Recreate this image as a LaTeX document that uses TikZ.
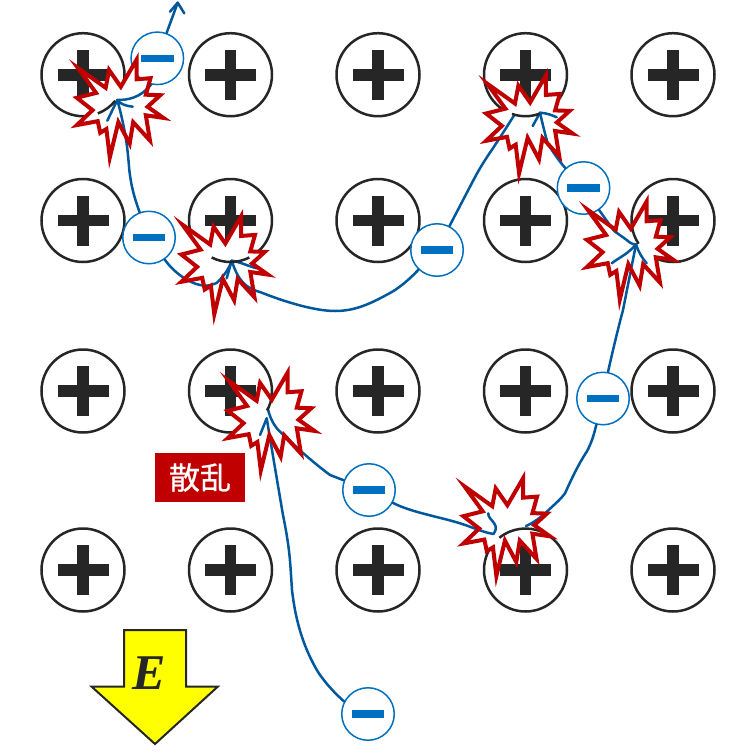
\documentclass[tikz,border=0pt]{standalone}
\usepackage{fontspec}
\newfontfamily\cjkf[FakeBold=0.7]{Noto Sans CJK JP}
\newfontfamily\efont{Liberation Serif}
\definecolor{ink}{HTML}{262626}
\definecolor{burstred}{HTML}{C00000}
\definecolor{eblue}{HTML}{0070C0}
\definecolor{trail}{HTML}{00589C}
\definecolor{fieldyellow}{HTML}{FFFF00}
\newcommand\burstoutline{(79,69) -- (106,88.3) -- (109.3,71) -- (120.7,87.3) -- (136,61) -- (136,80) -- (149.5,79) -- (145,95) -- (159,95.5) -- (146.7,106.7) -- (162,117.5) -- (145,115) -- (149,139.5) -- (132.7,121.7) -- (129.3,142.5) -- (118.3,121.7) -- (110,156) -- (106.7,128.3) -- (100.7,132) -- (98.3,120.7) -- (78,124.5) -- (93.3,110) -- (78,98) -- (96.7,93.3) -- cycle}
\newcommand\ionarc[3]{\draw[ionline] (#1.center) ++(-#2:41.5) arc[start angle=-#2,end angle=-#3,radius=41.5];}
\tikzset{
  x=1pt,y=-1pt,
  ionline/.style={draw=ink,line width=2.5pt},
  ion/.style={circle,ionline,fill=white,minimum size=83pt,inner sep=0pt,
    path picture={
      \fill[ink] ([shift={(-25.5pt,-5.8pt)}]path picture bounding box.center) rectangle ++(51pt,11.6pt);
      \fill[ink] ([shift={(-5.8pt,-25pt)}]path picture bounding box.center) rectangle ++(11.6pt,50pt);
    }},
  electron/.style={circle,draw=eblue,line width=1.5pt,fill=white,minimum size=52.5pt,inner sep=0pt,
    path picture={
      \fill[eblue] ([shift={(-16.2pt,-3.7pt)}]path picture bounding box.center) rectangle ++(32.4pt,7.4pt);
    }},
  traj/.style={draw=trail,line width=2.5pt,line cap=round,line join=round},
  burstfill/.style={fill=white},
  burstline/.style={draw=burstred,line width=4pt,miter limit=10},
  burstat/.style={shift={(117,105)},scale=1.03,shift={(-117,-105)}}
}
\begin{document}
\begin{tikzpicture}
\useasboundingbox (0,0) rectangle (756,756);
% ions
\foreach \cx/\colx in {a/83,b/230.5,c/378,d/525.5,e/673}{
  \foreach \ry/\rowy in {1/74.7,2/220.5,3/391,4/570}{
    \node[ion] (ion\cx\ry) at (\colx,\rowy) {};
  }
}
% electrons
\node[electron] (e1) at (157.3,58.3) {};
\node[electron] (e2) at (149,237.5) {};
\node[electron] (e3) at (437,250) {};
\node[electron] (e4) at (583.5,188) {};
\node[electron] (e5) at (603,398.5) {};
\node[electron] (e6) at (369,490) {};
\node[electron] (e7) at (368,714) {};
% scatter points
\coordinate (T1) at (117.3,100);
\coordinate (T2) at (231.7,260.7);
\coordinate (T3) at (540,112.7);
\coordinate (T4) at (636,244.3);
\coordinate (T5) at (266.7,418.3);
\coordinate (T6) at (493.3,534);
\coordinate (top) at (177.7,2.7);
% burst fills
\foreach \sx/\sy in {0/0,104.5/156.7,409.3/15.7,510/142,151/313,386.6/418.4}{
  \path[burstfill,shift={(\sx,\sy)},burstat] \burstoutline;
}
% trajectories
\draw[traj] (e7) .. controls (345,702) and (330,690) .. (318,672) .. controls (305,650) and (296,625) .. (292,590) .. controls (290,560) and (290,550) .. (283,515) .. controls (277,480) and (272,450) .. (T5);
\draw[traj] (T5) -- (260,435);
\draw[traj] (267.7,408.3) .. controls (270,418) and (274,426) .. (280,431.7) .. controls (295,446) and (310,460) .. (330,475) -- (e6);
\draw[traj] (e6) .. controls (410,512) and (440,517) .. (460,523.3) .. controls (472,527) and (482,532) .. (T6);
\draw[traj] (T6) .. controls (496,531) and (497,527) .. (494,523) .. controls (491,519) and (488,517) .. (488.3,513.3);
\draw[traj] (526,526) .. controls (533,523) and (540,518) .. (546.7,511.7) .. controls (555,504) and (560,500) .. (565,493.3) .. controls (572,478) and (578,465) .. (586.7,451.7) .. controls (592,442) and (594,434) .. (e5);
\draw[traj] (e5) .. controls (608,372) and (615,340) .. (623,310) -- (T4);
\draw[traj] (611.7,263.3) .. controls (620,257) and (628,254) .. (T4) .. controls (638,251) and (642,258) .. (646.7,263.3);
\draw[traj] (T4) .. controls (632,245) and (628,241) .. (626.7,240) .. controls (620,235) and (615,232) .. (613.3,230) -- (e4);
\draw[traj] (e4) .. controls (558,160) and (552,150) .. (548.3,145) .. controls (546,138) and (544,130) .. (T3);
\draw[traj] (T3) -- (532.7,126);
\draw[traj] (T3) .. controls (546,113) and (552,115) .. (556.7,117.3);
\draw[traj] (514.3,115) .. controls (508,125) and (503,133) .. (498.3,140) .. controls (492,150) and (486,158) .. (480,168.3) .. controls (476,175) and (473,181) .. (470,186.7) -- (e3);
\draw[traj] (e3) .. controls (420,268) and (405,285) .. (390,293) .. controls (370,304) and (355,311) .. (335,311) .. controls (315,311) and (285,302) .. (260,292) .. controls (245,288) and (238,280) .. (T2);
\draw[traj] (T2) -- (226.7,278.3);
\draw[traj] (T2) .. controls (240,262) and (248,266) .. (256.7,268.3);
\draw[traj] (T2) .. controls (230,266) and (226,274) .. (216.7,283) .. controls (210,286) and (205,286) .. (200,285) .. controls (190,283) and (175,274) .. (e2);
\draw[traj] (e2) .. controls (134,197) and (131,185) .. (129.3,170) .. controls (128,155) and (127,135) .. (T1);
\draw[traj] (T1) -- (107.3,120.7);
\draw[traj] (T1) .. controls (120,104) and (126,106) .. (132.7,106.7);
\draw[traj] (T1) .. controls (128,100) and (140,98) .. (150.7,85) -- (e1);
\draw[traj] (e1) -- (top);
\draw[traj] (170,11.7) -- (top) -- (184.3,13.3);
% ion arcs showing inside bursts
\ionarc{iona1}{-69}{-39}
\ionarc{ionb2}{-117}{-63}
\ionarc{iond1}{-109}{-70}
\ionarc{ione2}{-172}{-146}
\ionarc{ionb3}{-28}{-3}
\ionarc{iond4}{129}{65}
% burst outlines
\foreach \sx/\sy in {0/0,104.5/156.7,409.3/15.7,510/142,151/313,386.6/418.4}{
  \path[burstline,shift={(\sx,\sy)},burstat] \burstoutline;
}
% label
\node[fill=burstred,text=white,minimum width=90pt,minimum height=48.4pt,inner sep=0pt,font=\cjkf\fontsize{31}{31}\selectfont] (scatter) at (200,477.5) {散乱};
% field arrow
\draw[draw=ink,fill=fieldyellow,line width=2pt,miter limit=10] (124,630) -- (186,630) -- (186,686.7) -- (217.7,686.7) -- (155,744) -- (91.7,686.7) -- (124,686.7) -- cycle;
\node[text=ink,inner sep=0pt,font=\efont\bfseries\itshape\fontsize{50}{50}\selectfont] (field) at (149.5,673) {E};
\end{tikzpicture}
\end{document}
